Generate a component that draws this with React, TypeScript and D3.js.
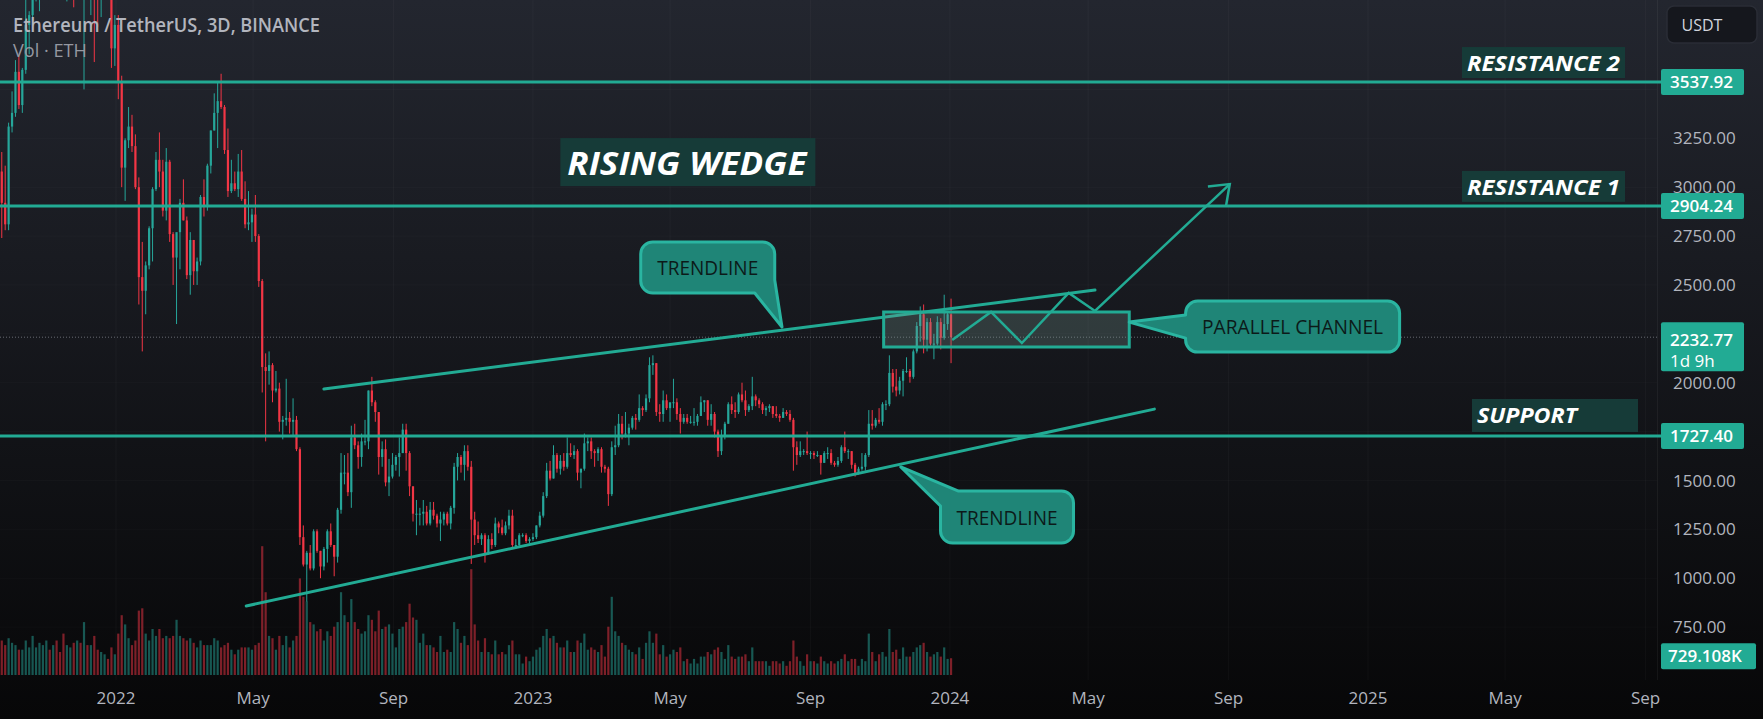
import React from 'react';
import * as d3 from 'd3';

type OHLC = [number, number, number, number];
type Pt = [string, number];

// ---------- DATA ----------
const FIRST_BAR = '2021-09-23';
const BAR_DAYS = 3;

const candles2021: OHLC[] = [
  [3080,3180,2740,2920],[2920,3110,2780,2810],[2810,3330,2780,3310],[3310,3490,3280,3380],
  [3380,3650,3360,3590],[3590,3670,3400,3420],[3420,3610,3380,3600],[3600,3970,3580,3830],
  [3830,3900,3680,3880],[3880,4370,3870,3970],[3970,4240,3950,4220],[4220,4300,3900,4290],
  [4290,4460,4160,4290],[4290,4660,4150,4600],[4600,4620,4330,4520],[4520,4830,4500,4730],
  [4730,4870,4500,4670],[4670,4770,4550,4570],[4570,4580,3960,3990],[3990,4460,3950,4270],
  [4270,4400,4060,4270],[4270,4550,3920,4100],[4100,4780,3970,4630],[4630,4780,4200,4240],
  [4240,4360,3500,4360],[4360,4450,4080,4110],[4110,4200,3880,4130],[4130,4140,3640,4020],
  [4020,4090,3820,3960],[3960,4050,3870,4020],[4020,4140,3960,4050],[4050,4130,4010,4040],
  [4040,4050,3610,3710],[3710,3880,3620,3830],
];

const candles2022: OHLC[] = [
  [3830,3880,3450,3540],[3540,3570,3000,3100],[3100,3250,2930,3240],[3240,3410,3200,3310],
  [3310,3370,3180,3210],[3210,3270,2990,3000],[3000,3050,2400,2540],[2540,2720,2160,2470],
  [2470,2620,2350,2600],[2600,2800,2580,2790],
  [2790,3000,2620,2990],[2990,3180,2980,3140],[3140,3280,3000,3080],[3080,3140,2850,2880],
  [2880,3200,2830,3130],[3130,3140,2720,2760],[2760,2770,2500,2640],[2640,2760,2300,2770],
  [2770,2940,2580,2920],
  [2920,3040,2830,2830],[2830,2850,2530,2550],[2550,2770,2450,2730],[2730,2730,2500,2570],
  [2570,2640,2500,2620],[2620,2960,2600,2950],[2950,3040,2850,2900],[2900,3120,2880,3110],
  [3110,3290,3070,3290],[3290,3480,3290,3380],[3380,3540,3200,3440],
  [3440,3580,3400,3410],[3410,3420,3170,3190],[3190,3300,2950,2980],[2980,3140,2970,3020],
  [3020,3080,2980,2990],[2990,3170,2950,3080],[3080,3190,2930,2940],[2940,3030,2790,2810],
  [2810,2980,2780,2820],[2820,2890,2720,2860],
  [2860,2960,2720,2750],[2750,2760,2490,2520],[2520,2530,1950,2080],[2080,2150,1700,2060],
  [2060,2160,1990,2090],[2090,2100,1900,1960],[1960,2060,1950,1970],[1970,2000,1750,1800],
  [1800,1830,1710,1810],[1810,2020,1780,1820],
  [1820,1850,1740,1800],[1800,1920,1730,1810],[1810,1830,1650,1660],[1660,1670,1170,1210],
  [1210,1270,1060,1070],[1070,1140,880,1130],[1130,1170,1040,1050],[1050,1250,1040,1240],
  [1240,1250,1130,1140],[1140,1140,1000,1060],
  [1060,1160,1040,1150],[1150,1250,1080,1240],[1240,1280,1160,1170],[1170,1170,1010,1110],
  [1110,1360,1080,1350],[1350,1640,1330,1540],[1540,1630,1480,1540],[1540,1640,1420,1440],
  [1440,1780,1360,1720],[1720,1790,1660,1680],
  [1680,1700,1560,1620],[1620,1740,1570,1700],[1700,1810,1680,1700],[1700,1960,1660,1960],
  [1960,2030,1880,1900],[1900,1910,1800,1850],[1850,1850,1530,1620],[1620,1700,1570,1660],
  [1660,1710,1470,1490],[1490,1610,1420,1520],[1520,1640,1510,1580],
  [1580,1630,1550,1620],[1620,1720,1520,1640],[1640,1790,1640,1760],[1760,1790,1550,1640],
  [1640,1650,1420,1470],[1470,1470,1290,1330],[1330,1400,1220,1330],[1330,1360,1270,1330],
  [1330,1400,1270,1340],[1340,1370,1270,1280],
  [1280,1390,1270,1350],[1350,1390,1300,1320],[1320,1330,1260,1280],[1280,1340,1190,1300],
  [1300,1340,1270,1330],[1330,1340,1270,1280],[1280,1370,1250,1360],[1360,1590,1330,1570],
  [1570,1640,1500,1620],[1620,1630,1540,1580],
  [1580,1680,1500,1650],[1650,1680,1550,1570],[1570,1600,1073,1300],[1300,1340,1170,1220],
  [1220,1290,1180,1200],[1200,1230,1170,1220],[1220,1230,1080,1130],[1130,1220,1120,1200],
  [1200,1230,1150,1170],[1170,1310,1160,1280],
  [1280,1290,1230,1260],[1260,1300,1220,1230],[1230,1290,1220,1270],[1270,1350,1250,1320],
  [1320,1350,1160,1170],[1170,1200,1150,1170],[1170,1230,1160,1220],[1220,1230,1210,1220],
  [1220,1230,1180,1190],[1190,1210,1180,1200],
];

const candles2023: OHLC[] = [
  [1200,1230,1190,1210],[1210,1270,1200,1270],[1270,1340,1260,1320],[1320,1440,1310,1420],
  [1420,1590,1410,1550],[1550,1600,1500,1510],[1510,1680,1510,1630],[1630,1640,1540,1560],
  [1560,1630,1530,1600],[1600,1640,1550,1570],[1570,1720,1560,1640],
  [1640,1690,1620,1630],[1630,1680,1610,1650],[1650,1660,1500,1540],[1540,1560,1460,1560],
  [1560,1740,1550,1690],[1690,1720,1650,1700],[1700,1720,1610,1650],[1650,1660,1570,1640],
  [1640,1670,1600,1660],
  [1660,1670,1540,1570],[1570,1580,1540,1560],[1560,1570,1370,1430],[1430,1700,1420,1670],
  [1670,1780,1630,1680],[1680,1840,1670,1790],[1790,1830,1710,1740],[1740,1850,1720,1740],
  [1740,1790,1680,1770],[1770,1830,1760,1820],
  [1820,1840,1760,1810],[1810,1940,1800,1870],[1870,1880,1830,1860],[1860,1940,1850,1920],
  [1920,2130,1900,2090],[2090,2140,2040,2100],[2100,2100,1830,1850],[1850,1890,1800,1840],
  [1840,1960,1800,1910],[1910,1940,1860,1870],
  [1870,1880,1800,1900],[1900,2020,1870,1900],[1900,1920,1810,1840],[1840,1870,1740,1800],
  [1800,1840,1790,1820],[1820,1840,1790,1800],[1800,1830,1790,1800],[1800,1870,1780,1800],
  [1800,1840,1780,1830],[1830,1930,1830,1900],[1900,1910,1850,1910],
  [1910,1910,1780,1810],[1810,1890,1780,1840],[1840,1850,1720,1750],[1750,1760,1620,1650],
  [1650,1760,1630,1730],[1730,1800,1710,1790],[1790,1900,1790,1890],[1890,1930,1840,1860],
  [1860,1900,1820,1850],[1850,1950,1840,1940],
  [1940,2000,1900,1910],[1910,1960,1830,1860],[1860,1890,1850,1880],[1880,2030,1860,1930],
  [1930,1940,1880,1910],[1910,1920,1870,1890],[1890,1900,1840,1860],[1860,1880,1830,1870],
  [1870,1890,1850,1880],[1880,1880,1820,1840],
  [1840,1880,1820,1830],[1830,1840,1800,1820],[1820,1870,1820,1850],[1850,1860,1830,1840],
  [1840,1860,1800,1810],[1810,1820,1550,1670],[1670,1700,1580,1630],[1630,1700,1620,1650],
  [1650,1660,1630,1650],[1650,1750,1630,1640],
  [1640,1650,1610,1640],[1640,1650,1610,1630],[1630,1650,1620,1630],[1630,1630,1530,1590],
  [1590,1650,1590,1640],[1640,1670,1610,1640],[1640,1660,1580,1590],[1590,1600,1570,1580],
  [1580,1620,1570,1600],[1600,1680,1590,1670],
  [1670,1750,1640,1650],[1650,1660,1610,1650],[1650,1650,1560,1580],[1580,1590,1520,1540],
  [1540,1570,1530,1560],[1560,1640,1550,1570],[1570,1640,1550,1630],[1630,1860,1620,1790],
  [1790,1860,1760,1780],[1780,1820,1770,1810],[1810,1870,1790,1800],
  [1800,1900,1780,1890],[1890,1910,1860,1890],[1890,2140,1880,2050],[2050,2070,1950,1980],
  [1980,2070,1930,1960],[1960,2030,1940,2010],[2010,2070,1930,2060],[2060,2130,2050,2060],
  [2060,2070,2000,2030],[2030,2170,2020,2160],
  [2160,2310,2150,2290],[2290,2390,2210,2350],[2350,2400,2150,2220],[2220,2330,2160,2310],
  [2310,2330,2190,2200],[2200,2250,2120,2200],[2200,2340,2190,2310],[2310,2330,2170,2230],
  [2230,2450,2220,2300],[2300,2360,2270,2350],
];

const candles2024: OHLC[] = [[2350, 2430, 2100, 2232.77]];

// volumes in thousands of ETH
const volumes2021 = [1500,1300,1600,1400,1300,1100,1100,1500,1200,1700,1200,1400,1300,1500,1100,1300,1500,1000,1800,1300,1200,1400,1500,1400,2300,1300,1300,1700,1100,1000,900,700,1200,900];
const volumes2022 = [
  1800,2600,2200,1600,1300,1500,2800,2900,1800,1500,
  2000,1700,2000,1600,1700,1600,1700,2400,1700,
  1600,1500,1600,1400,1200,1500,1300,1300,1300,1600,1500,
  1200,1300,1400,1100,900,1100,1200,1200,1200,1100,
  1300,1400,5600,3600,1700,1600,1100,1700,1300,1700,
  1200,1500,1700,4200,3400,3200,2300,2200,1900,2000,
  1500,1900,1700,2100,2300,3600,2600,2300,3300,2300,
  2000,1800,1900,2600,2400,1900,2800,2000,2100,2200,1800,
  1200,2000,2100,2300,3100,2500,2400,1400,1800,1300,
  1300,1200,1000,1700,1000,1100,1000,2300,2000,1400,
  1700,1300,4600,2200,1500,1000,1600,1000,900,1500,
  900,1000,900,1300,1500,900,900,500,800,600,
];
const volumes2023 = [
  800,1100,1200,1700,2000,1600,1700,1400,1200,1200,1500,
  1000,1000,1500,1400,1800,1100,1200,1100,1000,
  1300,800,2100,3400,1900,1700,1400,1300,1100,1000,
  900,1200,700,1400,1900,1400,1800,900,1300,800,
  900,1100,1000,1200,600,700,500,700,500,800,800,
  1000,900,1100,1200,1000,700,1300,800,700,800,
  800,900,600,1200,600,600,600,600,400,600,
  600,500,600,400,600,1500,800,600,400,900,
  600,600,500,800,600,500,600,500,600,700,
  900,600,700,700,400,700,600,1800,1000,600,900,
  1000,800,2000,1000,1100,700,1200,800,800,1000,
  1200,1300,1400,1000,800,900,1000,800,1200,700,
];
const volumes2024 = [729.108];

// tick labels visible on the price axis (others sit under the badges)
const priceTicks = [750, 1000, 1250, 1500, 2000, 2500, 2750, 3000, 3250];
const gridPrices = [750, 1000, 1250, 1500, 1750, 2000, 2250, 2500, 2750, 3000, 3250, 3500];
const timeTicks = ['2022-01-01','2022-05-01','2022-09-01','2023-01-01','2023-05-01','2023-09-01','2024-01-01','2024-05-01','2024-09-01','2025-01-01','2025-05-01','2025-09-01'];

const levelPrices = [3537.92, 2904.24, 1727.4];
const levelNames = ['RESISTANCE 2', 'RESISTANCE 1', 'SUPPORT'];
const lastPrice = 2232.77;
const lastCountdown = '1d 9h';
const lastVolumeText = '729.108K';

const upperTrend: Pt[] = [['2022-07-02', 1968], ['2024-05-07', 2474]];
const lowerTrend: Pt[] = [['2022-04-25', 858], ['2024-06-28', 1865]];
const channelBox: Pt[] = [['2023-11-04', 2361.6], ['2024-06-06', 2182.6]];
const projection: Pt[] = [
  ['2024-01-03', 2218], ['2024-02-06', 2362], ['2024-03-04', 2203],
  ['2024-04-14', 2459], ['2024-05-07', 2367], ['2024-09-02', 3016],
];
const calloutTexts = ['TRENDLINE', 'PARALLEL CHANNEL', 'TRENDLINE'];
const calloutCenters: Pt[] = [['2023-06-03', 2589], ['2024-10-27', 2287], ['2024-02-20', 1313]];
const calloutTips: Pt[] = [['2023-08-07', 2285], ['2024-06-06', 2310], ['2023-11-19', 1569]];
const titleText = 'RISING WEDGE';
const titleAnchor: Pt = ['2023-01-25', 3251];

// ---------- STYLE ----------
const W = 1763, H = 719;
const PLOT_RIGHT = 1657;
const VOL_BASE = 675;
const UP = '#26a69a';
const DOWN = '#f23645';
const TEAL = '#22ab94';
const FONT = "'Open Sans', 'Noto Sans', sans-serif";

function roundedWithTail(x0: number, y0: number, x1: number, y1: number, r: number, kind: string, tip: [number, number], a: number, b: number) {
  const [tx, ty] = tip;
  if (kind === 'bottomRight') {
    return `M${x0 + r},${y0} H${x1 - r} A${r},${r} 0 0 1 ${x1},${y0 + r} V${a} L${tx},${ty} L${b},${y1} H${x0 + r} A${r},${r} 0 0 1 ${x0},${y1 - r} V${y0 + r} A${r},${r} 0 0 1 ${x0 + r},${y0} Z`;
  }
  if (kind === 'left') {
    return `M${x0 + r},${y0} H${x1 - r} A${r},${r} 0 0 1 ${x1},${y0 + r} V${y1 - r} A${r},${r} 0 0 1 ${x1 - r},${y1} H${x0 + r} A${r},${r} 0 0 1 ${x0},${y1 - r} V${b} L${tx},${ty} L${x0},${a} V${y0 + r} A${r},${r} 0 0 1 ${x0 + r},${y0} Z`;
  }
  return `M${a},${y0} H${x1 - r} A${r},${r} 0 0 1 ${x1},${y0 + r} V${y1 - r} A${r},${r} 0 0 1 ${x1 - r},${y1} H${x0 + r} A${r},${r} 0 0 1 ${x0},${y1 - r} V${b} L${tx},${ty} Z`;
}

export default function App() {
  const x = d3.scaleUtc().domain([new Date('2022-01-01'), new Date('2025-01-01')]).range([116, 1368]);
  const y = d3.scaleLinear().domain([750, 3250]).range([627.1, 138.3]);
  const vh = d3.scaleLinear().domain([0, 1000]).range([0, 23]);
  const P = (p: Pt): [number, number] => [x(new Date(p[0])), y(p[1])];

  const allCandles = [...candles2021, ...candles2022, ...candles2023, ...candles2024];
  const allVolumes = [...volumes2021, ...volumes2022, ...volumes2023, ...volumes2024];
  const start = new Date(FIRST_BAR);
  const bars = allCandles.map((c, i) => ({
    date: d3.utcDay.offset(start, i * BAR_DAYS),
    o: c[0], h: c[1], l: c[2], c: c[3], v: allVolumes[i],
  }));

  const bodyW = 2.2;
  const line = d3.line<[number, number]>();

  const projPts = projection.map(P);
  const tip = projPts[projPts.length - 1];
  const prev = projPts[projPts.length - 2];
  const ang = Math.atan2(tip[1] - prev[1], tip[0] - prev[0]) + Math.PI;
  const arm = 22, spread = (37 * Math.PI) / 180;
  const arm1: [number, number] = [tip[0] + arm * Math.cos(ang + spread), tip[1] + arm * Math.sin(ang + spread)];
  const arm2: [number, number] = [tip[0] + arm * Math.cos(ang - spread), tip[1] + arm * Math.sin(ang - spread)];

  const [cbx0, cby0] = P(channelBox[0]);
  const [cbx1, cby1] = P(channelBox[1]);

  const calloutSpec = [
    { w: 134, h: 51, kind: 'bottomRight', a: 38, b: 114, tl: 101 },
    { w: 214, h: 51, kind: 'left', a: 14, b: 37, tl: 181 },
    { w: 133, h: 52, kind: 'topLeft', a: 18, b: 15, tl: 101 },
  ];

  const [tax, tay] = P(titleAnchor);

  const labelLeft = [1462, 1462, 1472];
  const labelW = [163, 163, 166];
  const labelH = [31, 31, 33];
  const labelTL = [153, 153, 100];

  const lastVolTop = VOL_BASE - vh(volumes2024[0]);

  return (
    <svg width={W} height={H} style={{ position: 'fixed', left: 0, top: 0, display: 'block' }} xmlns="http://www.w3.org/2000/svg">
      <defs>
        <linearGradient id="bg" x1="0" y1="0" x2="0" y2="1">
          <stop offset="0" stopColor="#23262f" />
          <stop offset="1" stopColor="#070708" />
        </linearGradient>
      </defs>
      <rect x={0} y={0} width={W} height={H} fill="url(#bg)" />

      {/* grid */}
      {timeTicks.map((t) => (
        <line key={'vg' + t} x1={x(new Date(t))} x2={x(new Date(t))} y1={0} y2={680} stroke="rgba(255,255,255,0.03)" />
      ))}
      {gridPrices.map((p) => (
        <line key={'hg' + p} x1={0} x2={PLOT_RIGHT} y1={y(p)} y2={y(p)} stroke="rgba(255,255,255,0.025)" />
      ))}
      <line x1={PLOT_RIGHT + 0.5} x2={PLOT_RIGHT + 0.5} y1={0} y2={680} stroke="rgba(255,255,255,0.05)" />

      {/* volume */}
      {bars.map((b, i) => {
        const cx = x(b.date);
        const hgt = vh(b.v);
        return (
          <rect key={'v' + i} x={cx - bodyW / 2} y={VOL_BASE - hgt} width={bodyW} height={hgt}
            fill={b.c >= b.o ? 'rgba(38,166,154,0.5)' : 'rgba(242,54,69,0.5)'} />
        );
      })}

      {/* candles */}
      {bars.map((b, i) => {
        const cx = x(b.date);
        const col = b.c >= b.o ? UP : DOWN;
        const top = y(Math.max(b.o, b.c));
        const bot = y(Math.min(b.o, b.c));
        return (
          <g key={'c' + i}>
            <line x1={cx} x2={cx} y1={y(b.h)} y2={y(b.l)} stroke={col} strokeWidth={1} />
            <rect x={cx - bodyW / 2} y={top} width={bodyW} height={Math.max(1, bot - top)} fill={col} />
          </g>
        );
      })}

      {/* horizontal levels */}
      {levelPrices.map((p) => (
        <line key={'lv' + p} x1={0} x2={PLOT_RIGHT + 4} y1={y(p)} y2={y(p)} stroke={TEAL} strokeWidth={3} />
      ))}
      <line x1={0} x2={PLOT_RIGHT} y1={y(lastPrice)} y2={y(lastPrice)} stroke="#8a8d96" strokeWidth={1} strokeDasharray="1 2" opacity={0.7} />

      {/* trendlines */}
      <path d={line([P(upperTrend[0]), P(upperTrend[1])]) || ''} stroke={TEAL} strokeWidth={3} fill="none" strokeLinecap="round" />
      <path d={line([P(lowerTrend[0]), P(lowerTrend[1])]) || ''} stroke={TEAL} strokeWidth={3} fill="none" strokeLinecap="round" />

      {/* parallel channel box */}
      <rect x={cbx0} y={cby0} width={cbx1 - cbx0} height={cby1 - cby0} fill="rgba(120,150,145,0.28)" stroke={TEAL} strokeWidth={3} />

      {/* projection path + arrow */}
      <path d={line(projPts) || ''} stroke={TEAL} strokeWidth={2.5} fill="none" strokeLinejoin="miter" />
      <path d={line([arm1, tip, arm2]) || ''} stroke={TEAL} strokeWidth={2.5} fill="none" />

      {/* callouts */}
      {calloutTexts.map((t, i) => {
        const s = calloutSpec[i];
        const [cx, cy] = P(calloutCenters[i]);
        const tp = P(calloutTips[i]);
        const x0 = cx - s.w / 2, y0 = cy - s.h / 2, x1 = cx + s.w / 2, y1 = cy + s.h / 2;
        let a = s.a, b = s.b;
        if (s.kind === 'bottomRight') { a = y0 + s.a; b = x0 + s.b; }
        if (s.kind === 'left') { a = y0 + s.a; b = y0 + s.b; }
        if (s.kind === 'topLeft') { a = x0 + s.a; b = y0 + s.b; }
        return (
          <g key={'co' + i}>
            <path d={roundedWithTail(x0, y0, x1, y1, 12, s.kind, tp, a, b)} fill="#1f8577" stroke="#2ab5a1" strokeWidth={3} strokeLinejoin="round" />
            <text x={cx} y={cy + 7.5} textAnchor="middle" fontFamily={FONT} fontSize={20} fill="#0c1a19"
              textLength={s.tl} lengthAdjust="spacingAndGlyphs">{t}</text>
          </g>
        );
      })}

      {/* title */}
      <rect x={tax} y={tay} width={255} height={48} fill="#163b38" />
      <text x={tax + 7} y={tay + 37} fontFamily={FONT} fontSize={33} fontWeight={700} fontStyle="italic" fill="#ffffff"
        textLength={239} lengthAdjust="spacingAndGlyphs">{titleText}</text>

      {/* level labels */}
      {levelNames.map((n, i) => {
        const ly = y(levelPrices[i]);
        const bTop = ly - 4 - labelH[i];
        return (
          <g key={'ln' + i}>
            <rect x={labelLeft[i]} y={bTop} width={labelW[i]} height={labelH[i]} fill="#163b38" />
            <text x={labelLeft[i] + 5} y={bTop + 24} fontFamily={FONT} fontSize={21} fontWeight={700} fontStyle="italic" fill="#ffffff"
              textLength={labelTL[i]} lengthAdjust="spacingAndGlyphs">{n}</text>
          </g>
        );
      })}

      {/* right axis labels */}
      {priceTicks.map((p) => (
        <text key={'pt' + p} x={1673} y={y(p)} dy="0.36em" fontFamily={FONT} fontSize={17} fill="#b2b5be">{p.toFixed(2)}</text>
      ))}
      {levelPrices.map((p) => (
        <g key={'lb' + p}>
          <rect x={1661} y={y(p) - 13} width={83} height={26} rx={2} fill={TEAL} />
          <text x={1670} y={y(p)} dy="0.36em" fontFamily={FONT} fontSize={17} fontWeight={600} fill="#ffffff">{p.toFixed(2)}</text>
        </g>
      ))}
      <rect x={1661} y={y(lastPrice) - 15} width={83} height={49} rx={2} fill={TEAL} />
      <text x={1670} y={y(lastPrice) + 9} fontFamily={FONT} fontSize={17} fontWeight={600} fill="#ffffff">{lastPrice.toFixed(2)}</text>
      <text x={1670} y={y(lastPrice) + 30} fontFamily={FONT} fontSize={17} fontWeight={500} fill="#ffffff">{lastCountdown}</text>

      <rect x={1661} y={lastVolTop - 15} width={95} height={26} rx={2} fill={TEAL} />
      <text x={1668} y={lastVolTop - 2} dy="0.36em" fontFamily={FONT} fontSize={17} fontWeight={600} fill="#ffffff">{lastVolumeText}</text>

      {/* currency box */}
      <rect x={1667} y={6} width={90} height={37} rx={7} fill="#15171d" stroke="#2a2d36" strokeWidth={1.5} />
      <text x={1702} y={25} dy="0.36em" textAnchor="middle" fontFamily={FONT} fontSize={16} fill="#d1d4dc">USDT</text>

      {/* time axis */}
      {timeTicks.map((t) => {
        const d = new Date(t);
        const lab = d.getUTCMonth() === 0 ? d3.utcFormat('%Y')(d) : d3.utcFormat('%b')(d);
        return (
          <text key={'tt' + t} x={x(d)} y={698} dy="0.36em" textAnchor="middle" fontFamily={FONT} fontSize={17} fill="#b2b5be">{lab}</text>
        );
      })}

      {/* header */}
      <text x={13} y={32} fontFamily={FONT} fontSize={20} fontWeight={600} fill="#b2b5be" textLength={307} lengthAdjust="spacingAndGlyphs">Ethereum / TetherUS, 3D, BINANCE</text>
      <text x={13} y={57} fontFamily={FONT} fontSize={19} fill="#9598a1" textLength={74} lengthAdjust="spacingAndGlyphs">Vol · ETH</text>
    </svg>
  );
}
